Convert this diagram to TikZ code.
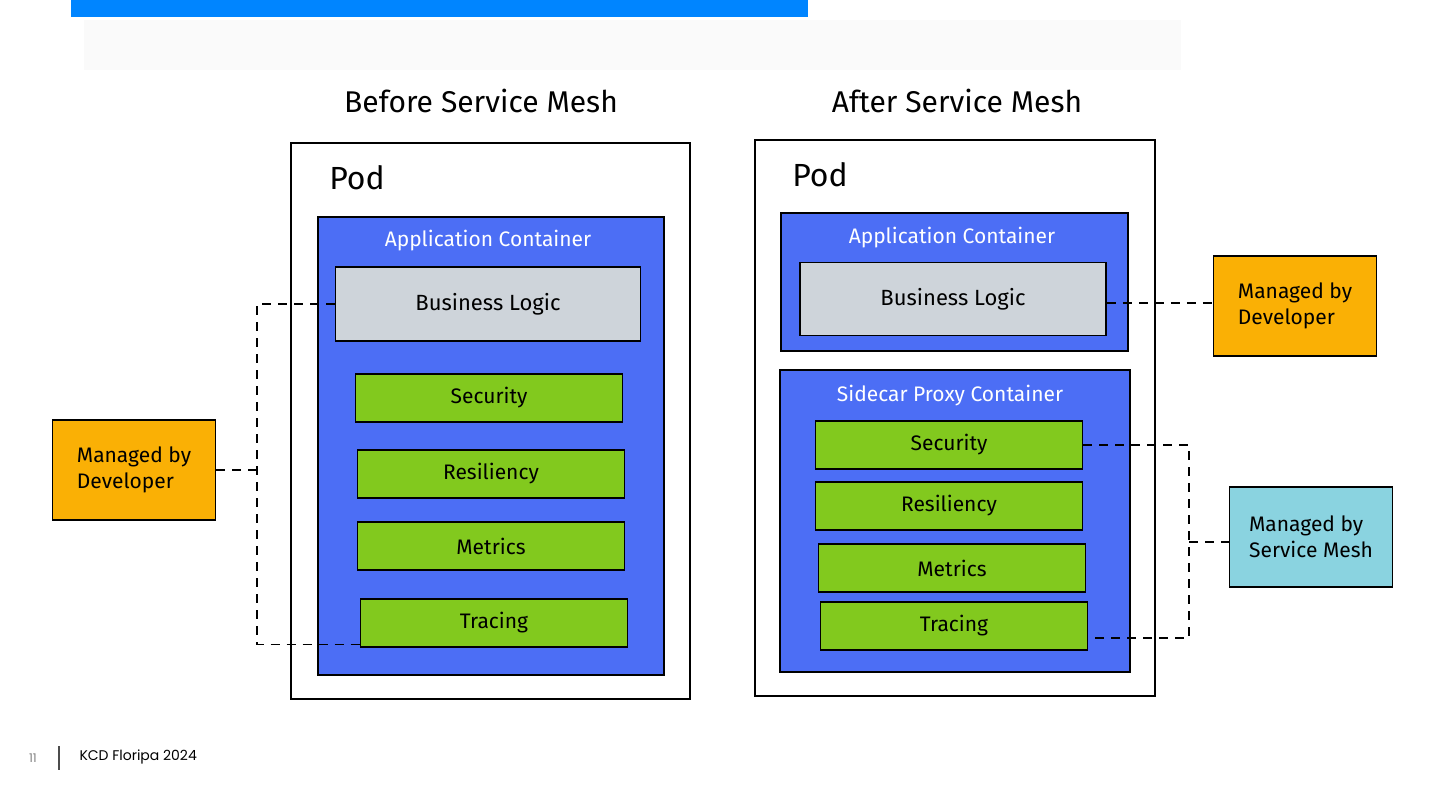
\documentclass[tikz,border=0pt]{standalone}
\usepackage{fontspec}
\setmainfont{Fira Sans}
\newfontfamily\footfont{Poppins}
\usetikzlibrary{positioning}

\definecolor{barblue}{HTML}{0085FF}
\definecolor{boxblue}{HTML}{4C6EF5}
\definecolor{logicgray}{HTML}{CED4DA}
\definecolor{featgreen}{HTML}{82C91E}
\definecolor{devorange}{HTML}{FAB005}
\definecolor{meshcyan}{HTML}{8AD3E0}

\begin{document}
\begin{tikzpicture}[x=1pt,y=-1pt,
  pod/.style={draw=black,line width=1.3pt,fill=white},
  cont/.style={draw=black,line width=1.3pt,fill=boxblue},
  logic/.style={draw=black,line width=1.5pt,fill=logicgray,font=\fontsize{22}{26}\selectfont},
  feat/.style={draw=black,line width=1.5pt,fill=featgreen,font=\fontsize{21}{24}\selectfont,minimum width=267pt,minimum height=48pt},
  manager/.style={draw=black,line width=1.5pt,minimum width=163pt,minimum height=100pt,align=left,font=\fontsize{21}{26}\selectfont},
  conn/.style={draw=black,line width=1.4pt,dash pattern=on 9pt off 7pt}]
\useasboundingbox (0,0) rectangle (1440,810);
\fill[color=barblue] (71,0) rectangle (808,17);
\fill[color=gray!4] (84,20) rectangle (1181,70);

% before
\node (titleB) at (481,101) {\fontsize{30}{34}\selectfont Before Service Mesh};
\draw[pod] (291,143) rectangle (690,699);
\node (podB) at (357,178) {\fontsize{32}{36}\selectfont Pod};
\draw[cont] (318,217) rectangle (664,675);
\node[text=white] (appB) at (488,241) {\fontsize{21}{24}\selectfont Application Container};
\node[logic,minimum width=305pt,minimum height=74pt] (blB) at (488,304) {Business Logic};
\node[feat] (secB) at (489,398) {Security};
\node[feat] (resB) at (491,474) {Resiliency};
\node[feat] (metB) at (491,546) {Metrics};
\node[feat] (traB) at (494,623) {Tracing};
\node[manager,fill=devorange] (devB) at (134,470) {Managed by\\Developer};
\coordinate (jB) at (257,470);
\draw[conn] (devB.east) -- (jB);
\draw[conn] (blB.west) -| (jB) |- ([yshift=3pt]traB.south west);

% after
\node (titleA) at (957,101) {\fontsize{30}{34}\selectfont After Service Mesh};
\draw[pod] (755,140) rectangle (1155,696);
\node (podA) at (820,175) {\fontsize{32}{36}\selectfont Pod};
\draw[cont] (781,213) rectangle (1128,351);
\node[text=white] (appA) at (952,238) {\fontsize{21}{24}\selectfont Application Container};
\node[logic,minimum width=306pt,minimum height=73pt] (blA) at (953,299) {Business Logic};
\draw[cont] (780,370) rectangle (1130,672);
\node[text=white] (sideA) at (950,396) {\fontsize{21}{24}\selectfont Sidecar Proxy Container};
\node[feat] (secA) at (949,445) {Security};
\node[feat] (resA) at (949,506) {Resiliency};
\node[feat] (metA) at (952,568) {Metrics};
\node[feat] (traA) at (954,626) {Tracing};
\node[manager,fill=devorange] (devA) at (1295,306) {Managed by\\Developer};
\node[manager,fill=meshcyan] (meshA) at (1311,537) {Managed by\\Service Mesh};
\draw[conn] ([yshift=-4pt]blA.east) -- ([yshift=-4pt]blA.east -| devA.west);
\coordinate (jA) at (1189,542);
\draw[conn] (secA.east) -| (jA) |- ([yshift=-12pt]traA.east);
\draw[conn] (jA) -- (meshA.west |- jA);

% footer
\node[text=gray,font=\footfont\fontsize{12}{14}\selectfont] (page) at (33,758) {11};
\draw[line width=1.6pt,color=black!70] (59,746) -- (59,770);
\node[anchor=west,font=\footfont\fontsize{14}{16}\selectfont] (event) at (76,757) {KCD Floripa 2024};
\end{tikzpicture}
\end{document}
